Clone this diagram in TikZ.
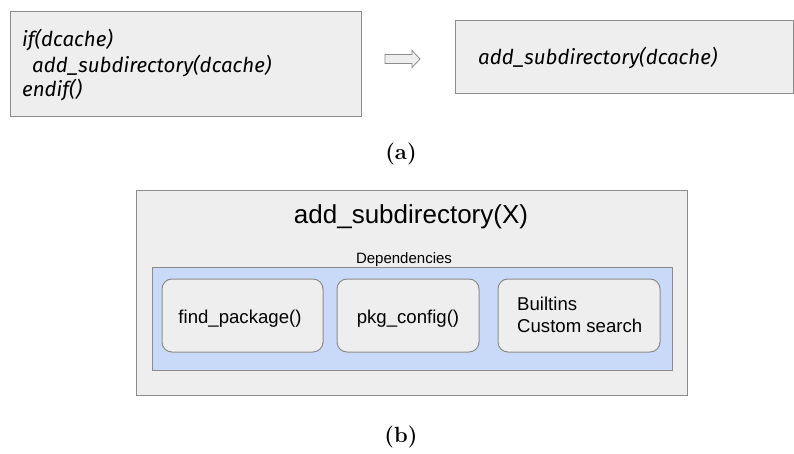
\documentclass[tikz,border=0pt]{standalone}
\usepackage{fontspec}
\setsansfont{Liberation Sans}
\newfontfamily\codefont{Fira Sans}
\definecolor{boxgray}{HTML}{EEEEEE}
\definecolor{edgegray}{HTML}{8C8C8C}
\definecolor{depblue}{HTML}{C9DAF8}
\begin{document}
\begin{tikzpicture}[x=1pt,y=-1pt,
  plainbox/.style={draw=edgegray,fill=boxgray,line width=1pt},
  roundbox/.style={draw=edgegray,fill=boxgray,line width=1pt,rounded corners=10pt},
  codetext/.style={font=\codefont\itshape\fontsize{20.5}{25}\selectfont,anchor=base west,inner sep=0pt},
  boxtext/.style={font=\sffamily\fontsize{18.6}{22}\selectfont,anchor=base,inner sep=0pt},
  captext/.style={font=\bfseries\fontsize{22}{25}\selectfont,anchor=base,inner sep=0pt}]
\useasboundingbox (0,0) rectangle (794,454);
% (a)
\draw[plainbox] (10,12) rectangle (361,117);
\node[codetext] (c1) at (22,47) {if(dcache)};
\node[codetext] (c2) at (32,73) {add\_subdirectory(dcache)};
\node[codetext] (c3) at (22,97) {endif()};
\draw[draw=edgegray,fill=boxgray,line width=0.8pt]
  (385,54.5) -- (412,54.5) -- (412,50.5) -- (420,59) -- (412,67.5) -- (412,63.5) -- (385,63.5) -- cycle;
\draw[plainbox] (455,21) rectangle (793,94);
\node[codetext] (code2) at (478,65) {add\_subdirectory(dcache)};
\node[captext] (capa) at (401,160) {(a)};
% (b)
\draw[plainbox] (136,191) rectangle (687,395);
\node[font=\sffamily\fontsize{26}{30}\selectfont,anchor=base,inner sep=0pt] (title) at (411,223) {add\_subdirectory(X)};
\node[font=\sffamily\fontsize{15}{18}\selectfont,anchor=base,inner sep=0pt] (deps) at (404,263) {Dependencies};
\draw[draw=edgegray,fill=depblue,line width=1pt] (152,267) rectangle (672,370);
\draw[roundbox] (162,279) rectangle (323,352);
\draw[roundbox] (337,279) rectangle (479,352);
\draw[roundbox] (498,279) rectangle (660,352);
\node[boxtext] (fp) at (240,323) {find\_package()};
\node[boxtext] (pc) at (408,323) {pkg\_config()};
\node[boxtext,anchor=base west] (bi1) at (517,310) {Builtins};
\node[boxtext,anchor=base west] (bi2) at (517,332) {Custom search};
\node[captext] (capb) at (401,442) {(b)};
\end{tikzpicture}
\end{document}
